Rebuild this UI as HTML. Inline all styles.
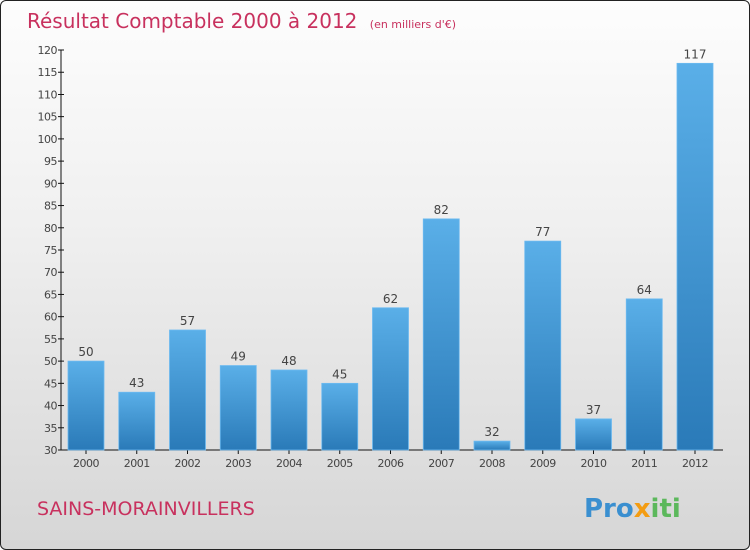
<!DOCTYPE html>
<html><head><meta charset="utf-8"><style>
body{margin:0;}
#c{position:relative;width:748px;height:548px;border:1px solid #222;border-radius:6px;overflow:hidden;background:linear-gradient(#fdfdfd,#f0f0f0 40%,#d6d6d6);font-family:"DejaVu Sans","Liberation Sans",sans-serif;}
</style></head><body>
<div id="c">
<svg id="s" width="748" height="548">
<defs><linearGradient id="g" x1="0" y1="0" x2="0" y2="1"><stop offset="0" stop-color="#5aafe8"/><stop offset="1" stop-color="#2a7ab8"/></linearGradient></defs>
<text x="26" y="27" font-size="20" fill="#c8315e">Résultat Comptable 2000 à 2012 <tspan font-size="11" dx="6">(en milliers d'€)</tspan></text>
<text x="36" y="514" font-size="19" fill="#c8315e">SAINS-MORAINVILLERS</text>
<text x="583" y="516" font-size="26" font-weight="bold" fill="#3a8fd0">Pro<tspan fill="#f39c12">x</tspan><tspan fill="#5cb85c">iti</tspan></text>
<g id="ax"></g><g id="bars"></g>
</svg></div>
<script>
const years=["2000","2001","2002","2003","2004","2005","2006","2007","2008","2009","2010","2011","2012"];
const values=[50,43,57,49,48,45,62,82,32,77,37,64,117];
const yTicks=[30,35,40,45,50,55,60,65,70,75,80,85,90,95,100,105,110,115,120];
const NS="http://www.w3.org/2000/svg";
const y0=449,yT=49,vMin=30,vMax=120;
const y=v=>y0-(v-vMin)/(vMax-vMin)*(y0-yT);
const x=i=>85+i*50.75;
function mk(t,a,p){const e=document.createElementNS(NS,t);for(const k in a)e.setAttribute(k,a[k]);p.appendChild(e);return e;}
const ax=document.getElementById('ax'),bg=document.getElementById('bars');
let l=mk('line',{x1:60,y1:yT,x2:60,y2:y0,stroke:'#111'},ax);

l=mk('line',{x1:60,y1:y0,x2:722,y2:y0,stroke:'#111'},ax);

yTicks.forEach(v=>{
 const tk=mk('line',{x1:57,y1:y(v),x2:63,y2:y(v),stroke:'#111'},ax);
 
 const t=mk('text',{x:56,y:y(v)+4,'font-size':11,'text-anchor':'end',fill:'#444','letter-spacing':'-0.5'},ax);t.textContent=v;
 
});
years.forEach((yr,i)=>{
 const cx=x(i);
 const r=mk('rect',{x:cx-18,y:y(values[i]),width:36,height:y0-y(values[i]),fill:'url(#g)',stroke:'#6cbaf0','stroke-width':0.8},bg);
 
 const vt=mk('text',{x:cx,y:y(values[i])-5,'font-size':12,'text-anchor':'middle',fill:'#444'},bg);vt.textContent=values[i];
 
 const tk=mk('line',{x1:cx,y1:y0,x2:cx,y2:y0+4,stroke:'#111'},ax);
 
 const xt=mk('text',{x:cx,y:466,'font-size':11,'text-anchor':'middle',fill:'#444','letter-spacing':'-0.5'},ax);xt.textContent=yr;
 
});
</script>
</body></html>
